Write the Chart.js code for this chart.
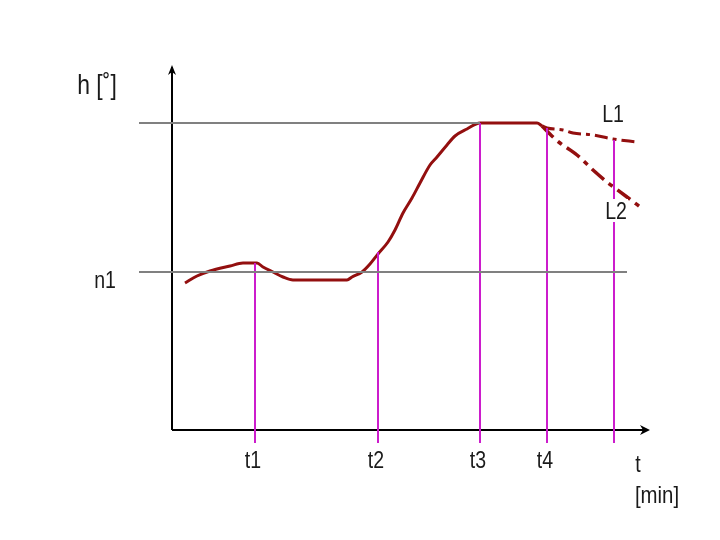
<!DOCTYPE html>
<html>
<head>
<meta charset="utf-8">
<script src="https://cdn.jsdelivr.net/npm/chart.js@4/dist/chart.umd.min.js"></script>
<style>
  html, body { margin: 0; padding: 0; background: #fff; }
  canvas { display: block; }
</style>
</head>
<body>
<canvas id="chart" width="720" height="540"></canvas>
<script>
// time in arbitrary minutes, height in arbitrary degrees (origin = axis crossing)
const curveT = [1.3, 2.5, 3.8, 5.8, 7.1, 8.5, 9.1, 10.1, 11.1, 12.1, 17.5, 18.0, 19.0, 19.8, 20.6, 21.6, 22.3, 23.1, 24.0, 24.8, 25.8, 26.5, 27.5, 28.3, 29.5, 30.8, 36.5, 37.0]
const curveH = [14.7, 15.4, 15.9, 16.4, 16.7, 16.7, 16.3, 15.8, 15.3, 15.0, 15.0, 15.3, 15.8, 16.6, 17.6, 18.8, 20.0, 21.7, 23.2, 24.7, 26.5, 27.3, 28.5, 29.4, 30.1, 30.7, 30.7, 30.4]

const l1T = [37.0, 37.5, 39.1, 40.1, 42.1, 44.1, 46.5]
const l1H = [30.4, 30.2, 30.0, 29.7, 29.5, 29.1, 28.8]
const l2T = [37.0, 38.1, 38.8, 40.5, 42.1, 43.5, 44.3, 45.5, 47.1]
const l2H = [30.4, 29.3, 28.7, 27.5, 26.0, 24.8, 24.2, 23.3, 22.1]

const markT = [8.3, 20.6, 30.8, 37.5, 44.2]
const markTop = [16.7, 17.8, 30.7, 30.2, 29.0]
const markLabels = ["t1", "t2", "t3", "t4", ""]

const levelH = [30.7, 15.8]
const levelEnd = [30.8, 45.5]
const levelStart = -3.3

const axisTEnd = 47.8
const axisHEnd = 36.5

const red = "#930f0f"
const magenta = "#cc1ccc"
const gray = "#808080"

const pts = (xs, ys) => xs.map((x, i) => ({ x, y: ys[i] }))

const datasets = []
levelH.forEach((h, i) => {
  datasets.push({ data: [{ x: levelStart, y: h }, { x: levelEnd[i], y: h }], borderColor: gray, borderWidth: 2 })
})
markT.forEach((t, i) => {
  datasets.push({ data: [{ x: t, y: -1.3 }, { x: t, y: markTop[i] }], borderColor: magenta, borderWidth: 2 })
})
datasets.push({ data: pts(curveT, curveH), borderColor: red, borderWidth: 3, cubicInterpolationMode: "monotone" })
datasets.push({ data: pts(l1T, l1H), borderColor: red, borderWidth: 3, cubicInterpolationMode: "monotone", borderDash: [13, 5, 4, 5] })
datasets.push({ data: pts(l2T, l2H), borderColor: red, borderWidth: 3.5, cubicInterpolationMode: "monotone", borderDash: [16, 6, 5, 6] })

const font = "'Liberation Sans', Arial, sans-serif"

const sketch = {
  id: "sketch",
  beforeDatasetsDraw(chart) {
    const { ctx, scales: { x, y } } = chart
    const x0 = x.getPixelForValue(0), y0 = y.getPixelForValue(0)
    const xe = x.getPixelForValue(axisTEnd), ye = y.getPixelForValue(axisHEnd)
    ctx.save()
    ctx.strokeStyle = "#000"
    ctx.fillStyle = "#000"
    ctx.lineWidth = 2
    ctx.beginPath()
    ctx.moveTo(x0, y0); ctx.lineTo(x0, ye + 2)
    ctx.moveTo(x0, y0); ctx.lineTo(xe - 2, y0)
    ctx.stroke()
    // arrow heads
    ctx.beginPath()
    ctx.moveTo(x0, ye); ctx.lineTo(x0 - 4, ye + 10); ctx.lineTo(x0, ye + 7); ctx.lineTo(x0 + 4, ye + 10); ctx.closePath()
    ctx.moveTo(xe, y0); ctx.lineTo(xe - 10, y0 - 5); ctx.lineTo(xe - 7, y0); ctx.lineTo(xe - 10, y0 + 5); ctx.closePath()
    ctx.fill()
    ctx.restore()
  },
  afterDatasetsDraw(chart) {
    const { ctx, scales: { x, y } } = chart
    const text = (str, px, py, size, align) => {
      ctx.font = size + "px " + font
      ctx.textAlign = align || "center"
      ctx.textBaseline = "alphabetic"
      ctx.save()
      ctx.translate(px, py)
      ctx.scale(0.85, 1)
      ctx.fillText(str, 0, 0)
      ctx.restore()
    }
    ctx.save()
    ctx.fillStyle = "#1a1a1a"
    const base = y.getPixelForValue(-3.8)
    markT.forEach((t, i) => {
      if (markLabels[i]) text(markLabels[i], x.getPixelForValue(t) - 2, base, 23)
    })
    text("h [˚]", x.getPixelForValue(-7.5), y.getPixelForValue(33.6), 27)
    text("n1", x.getPixelForValue(-6.7), y.getPixelForValue(14.2), 23)
    text("L1", x.getPixelForValue(44.1), y.getPixelForValue(30.8), 23)
    // L2 sits on a white patch over the last marker line
    const lx = x.getPixelForValue(44.4), ly = y.getPixelForValue(21.1)
    ctx.fillStyle = "#fff"
    ctx.fillRect(lx - 12, ly - 20, 24, 23)
    ctx.fillStyle = "#1a1a1a"
    text("L2", lx, ly, 23)
    text("t", x.getPixelForValue(46.6), y.getPixelForValue(-4.2), 23)
    text("[min]", x.getPixelForValue(48.5), y.getPixelForValue(-7.3), 24)
    ctx.restore()
  }
}

new Chart(document.getElementById("chart"), {
  type: "scatter",
  data: { datasets },
  options: {
    responsive: false,
    animation: false,
    showLine: true,
    layout: { padding: 0 },
    elements: { point: { radius: 0, hoverRadius: 0 } },
    plugins: { legend: { display: false }, tooltip: { enabled: false } },
    scales: {
      x: { type: "linear", display: false, min: -17.2, max: 54.8 },
      y: { type: "linear", display: false, min: -11, max: 43 }
    }
  },
  plugins: [sketch]
})
</script>
</body>
</html>
